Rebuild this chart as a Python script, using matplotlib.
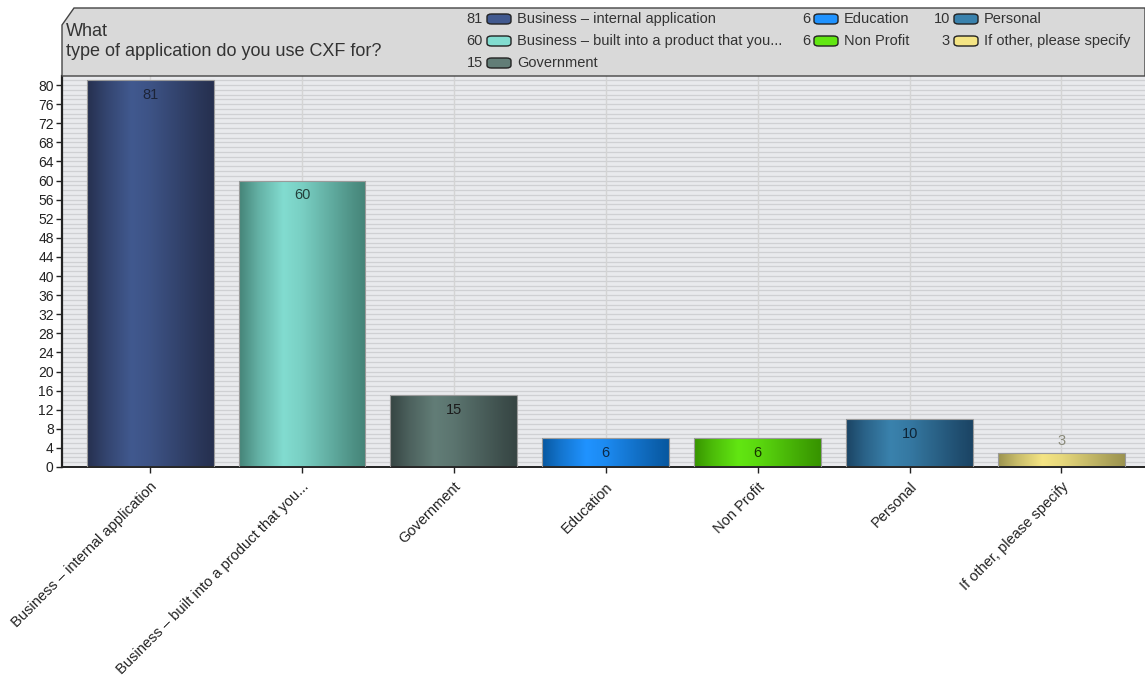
import matplotlib.pyplot as plt
import numpy as np
from matplotlib.patches import Polygon, FancyBboxPatch
from matplotlib.colors import LinearSegmentedColormap

plt.rcParams["font.family"] = ["Liberation Sans", "DejaVu Sans"]

# Survey data
categories = [
    "Business \u2013 internal application",
    "Business \u2013 built into a product that you...",
    "Government",
    "Education",
    "Non Profit",
    "Personal",
    "If other, please specify",
]
counts = [81, 60, 15, 6, 6, 10, 3]
title_lines = ["What", "type of application do you use CXF for?"]

# (edge colour, centre colour) for the cylinder-like gradient
bar_colors = [
    ("#26304f", "#41598f"),
    ("#458478", "#82dcd0"),
    ("#364543", "#627d77"),
    ("#0858a0", "#2093ff"),
    ("#379400", "#62e612"),
    ("#1b4464", "#3a82ad"),
    ("#9c9450", "#f4e484"),
]
label_colors = ["#1c2438", "#24403b", "#1c1c1c", "#0c2a48", "#163400", "#0e2436", "#8a8a7a"]

W, H = 1145, 677
fig = plt.figure(figsize=(W / 100, H / 100), dpi=100)
fig.patch.set_facecolor("white")

ax = fig.add_axes([62 / W, 1 - 467 / H, (W - 62) / W, (467 - 76) / H])
ax.set_facecolor("#e9eaed")
x = np.arange(len(categories))
ax.set_xlim(-0.58, 6.55)
ax.set_ylim(0, 81.9)

# striped background: a line for every unit
for yy in np.arange(1, 82):
    ax.axhline(yy, color="#cfd0d3", lw=0.9, zorder=0)
for xx in x:
    ax.axvline(xx, color="#d4d4d4", lw=1.0, zorder=0.5)

bars = ax.bar(x, counts, width=0.835, color="none", edgecolor="none", zorder=2)
grad = np.array([0.0, 0.15, 0.35, 0.5, 0.7, 0.9, 1.0])
prof = np.array([0.0, 0.5, 1.0, 0.85, 0.5, 0.15, 0.0])
xs = np.linspace(0, 1, 200)
row = np.interp(xs, grad, prof)
for b, (c0, c1), v, lc in zip(bars, bar_colors, counts, label_colors):
    cmap = LinearSegmentedColormap.from_list("g", [c0, c1])
    im = ax.imshow(row[None, :], cmap=cmap, vmin=0, vmax=1, aspect="auto",
                   extent=[b.get_x(), b.get_x() + b.get_width(), 0, v], zorder=2)
    im.set_clip_path(b)
    ax.add_patch(plt.Rectangle((b.get_x(), 0), b.get_width(), v, fill=False,
                               edgecolor="#9a9a9a", lw=0.8, zorder=3))
    cx = b.get_x() + b.get_width() / 2
    if v > 5:
        ax.text(cx, v - 3.1, str(v), ha="center", va="center",
                fontsize=10.5, color=lc, zorder=4)
    else:
        ax.text(cx, v + 2.4, str(v), ha="center", va="center",
                fontsize=10.5, color=lc, zorder=4)

ax.set_xticks(x)
ax.set_xticklabels(categories, rotation=45, ha="right", rotation_mode="anchor",
                   fontsize=10.5, color="#333")
ax.set_yticks(np.arange(0, 81, 4))
ax.tick_params(axis="y", labelsize=10, colors="#222", length=4, width=1, pad=2)
ax.tick_params(axis="x", length=4, width=1, colors="#222", pad=5)
for s in ["top", "right"]:
    ax.spines[s].set_visible(False)
ax.spines["left"].set_linewidth(1.6)
ax.spines["left"].set_color("#222")
ax.spines["bottom"].set_linewidth(1.4)
ax.spines["bottom"].set_color("#222")


# header box with cut corner (pixel helpers)
def fx(px):
    return px / W


def fy(py):
    return 1 - py / H


hdr = Polygon([(fx(62), fy(76)), (fx(62), fy(25)), (fx(74), fy(8)), (fx(1145), fy(8)),
               (fx(1145), fy(76))], closed=True, transform=fig.transFigure,
              facecolor="#d9d9d9", edgecolor="#444", lw=1.0)
fig.patches.append(hdr)
fig.text(fx(66), fy(31), title_lines[0], fontsize=13, color="#333", va="center")
fig.text(fx(66), fy(52), title_lines[1], fontsize=13, color="#333", va="center")

# legend laid out in three columns
slots = [(483, 19), (483, 41), (483, 63), (810, 19), (810, 41), (950, 19), (950, 41)]
for (px, py), cat, v, (c0, c1) in zip(slots, categories, counts, bar_colors):
    fig.text(fx(px), fy(py), str(v), ha="right", va="center", fontsize=10.5, color="#333")
    sw = FancyBboxPatch((fx(px + 4), fy(py + 5)), fx(24), 10 / H,
                        boxstyle="round,pad=0,rounding_size=0.004",
                        transform=fig.transFigure, facecolor=c1, edgecolor="#222", lw=1.0)
    fig.patches.append(sw)
    fig.text(fx(px + 34), fy(py), cat, ha="left", va="center", fontsize=10.5, color="#333")

fig.savefig("out.png", dpi=100)
